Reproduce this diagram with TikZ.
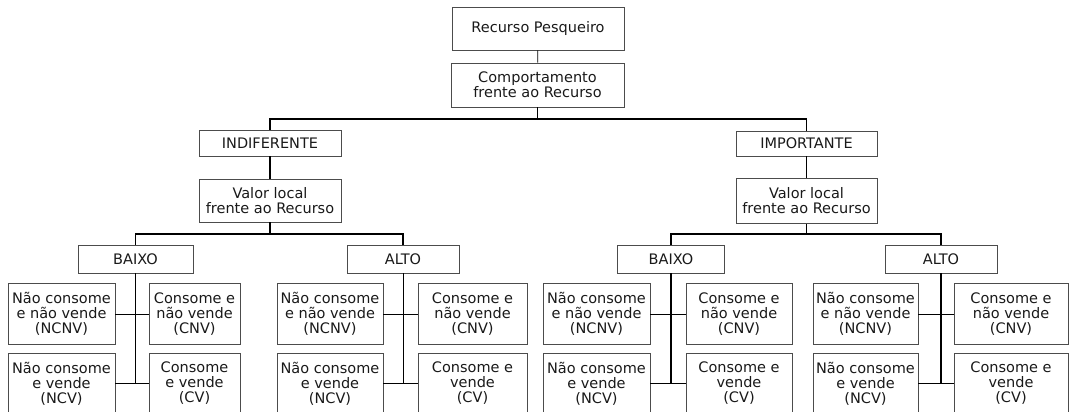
\documentclass[tikz,border=0pt]{standalone}
\usepackage{fontspec}
\setmainfont{DejaVu Sans}
\usetikzlibrary{positioning}

\tikzset{
  caixa/.style={draw=black!70, line width=0.7pt, align=center, inner sep=1pt,
    font=\fontsize{14.5}{15}\selectfont, text=black!90},
  folha/.style={caixa, minimum height=61pt},
  fino/.style={line width=0.8pt},
  grosso/.style={line width=1.8pt},
}

\begin{document}
\begin{tikzpicture}[x=1pt, y=-1pt]
  \useasboundingbox (0,0) rectangle (1069,412);
  \clip (0,0) rectangle (1069,412);

  % topo
  \node[caixa, minimum width=172pt, minimum height=43pt] (rec) at (538,28.5) {Recurso Pesqueiro};
  \node[caixa, minimum width=173pt, minimum height=44pt] (comp) at (537.5,85) {Comportamento\\frente ao Recurso};
  \coordinate (j1) at (537.5,119);

  % indiferente / importante
  \node[caixa, minimum width=142pt, minimum height=26pt] (ind) at (270,143) {INDIFERENTE};
  \node[caixa, minimum width=142pt, minimum height=43pt] (vali) at (270,200.5) {Valor local\\frente ao Recurso};
  \node[caixa, minimum width=141pt, minimum height=25pt] (imp) at (806.5,143.5) {IMPORTANTE};
  \node[caixa, minimum width=141pt, minimum height=45pt] (valm) at (806.5,201) {Valor local\\frente ao Recurso};
  \coordinate (j2) at (270,234);
  \coordinate (j3) at (806.5,234);

  % baixo / alto
  \node[caixa, minimum width=115pt, minimum height=28pt] (bxl) at (135.5,259) {BAIXO};
  \node[caixa, minimum width=112pt, minimum height=28pt] (atl) at (403,259) {ALTO};
  \node[caixa, minimum width=107pt, minimum height=28pt] (bxr) at (671,259) {BAIXO};
  \node[caixa, minimum width=112pt, minimum height=28pt] (atr) at (941,259) {ALTO};

  % folhas
  \node[folha, minimum width=107pt] (ncnv1) at (61.5,314) {Não consome\\e não vende\\(NCNV)};
  \node[folha, minimum width=91pt] (cnv1) at (194.5,314) {Consome e\\não vende\\(CNV)};
  \node[folha, minimum width=107pt] (ncv1) at (61.5,383.5) {Não consome\\e vende\\(NCV)};
  \node[folha, minimum width=91pt] (cv1) at (194.5,383.5) {Consome\\e vende\\(CV)};

  \node[folha, minimum width=106pt] (ncnv2) at (330,314) {Não consome\\e não vende\\(NCNV)};
  \node[folha, minimum width=109pt] (cnv2) at (472.5,314) {Consome e\\não vende\\(CNV)};
  \node[folha, minimum width=106pt] (ncv2) at (330,383.5) {Não consome\\e vende\\(NCV)};
  \node[folha, minimum width=109pt] (cv2) at (472.5,383.5) {Consome e\\vende\\(CV)};

  \node[folha, minimum width=107pt] (ncnv3) at (596.5,314) {Não consome\\e não vende\\(NCNV)};
  \node[folha, minimum width=106pt] (cnv3) at (739,314) {Consome e\\não vende\\(CNV)};
  \node[folha, minimum width=107pt] (ncv3) at (596.5,383.5) {Não consome\\e vende\\(NCV)};
  \node[folha, minimum width=106pt] (cv3) at (739,383.5) {Consome e\\vende\\(CV)};

  \node[folha, minimum width=105pt] (ncnv4) at (865.5,314) {Não consome\\e não vende\\(NCNV)};
  \node[folha, minimum width=114pt] (cnv4) at (1011,314) {Consome e\\não vende\\(CNV)};
  \node[folha, minimum width=105pt] (ncv4) at (865.5,383.5) {Não consome\\e vende\\(NCV)};
  \node[folha, minimum width=114pt] (cv4) at (1011,383.5) {Consome e\\vende\\(CV)};

  % ligacoes
  \draw[fino] (rec) -- (comp);
  \draw[fino] (comp) -- (j1);
  \draw[grosso] (ind.north) |- (j1) -| (imp.north);
  \draw[grosso] (ind) -- (vali);
  \draw[grosso] (imp) -- (valm);
  \draw[grosso] (vali) -- (j2);
  \draw[grosso] (valm) -- (j3);
  \draw[grosso] (bxl.north) |- (j2) -| (atl.north);
  \draw[grosso] (bxr.north) |- (j3) -| (atr.north);

  \draw[grosso] (bxl.south) -- (bxl.south |- ncv1.east);
  \draw[fino] (atl.south) -- (atl.south |- ncv2.east);
  \draw[grosso] (bxr.south) -- (bxr.south |- ncv3.east);
  \draw[grosso] (atr.south) -- (atr.south |- ncv4.east);
  \foreach \i in {1,...,4} {
    \draw[fino] (ncnv\i.east) -- (cnv\i.west);
    \draw[fino] (ncv\i.east) -- (cv\i.west);
  }
\end{tikzpicture}
\end{document}
